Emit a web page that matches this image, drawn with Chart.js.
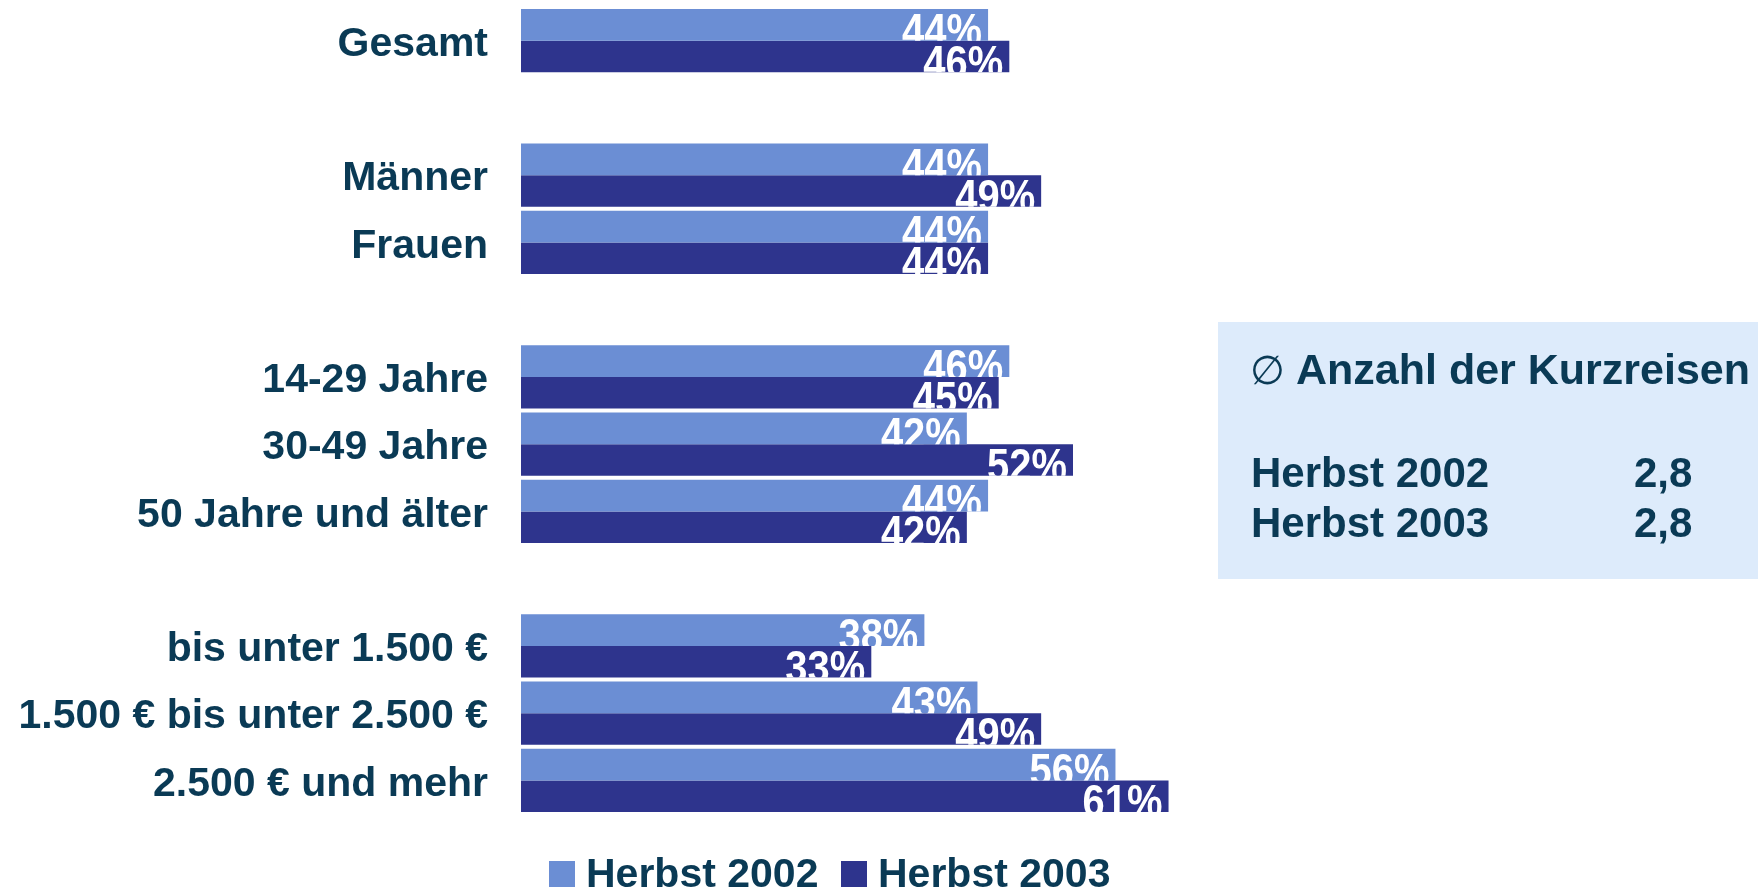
<!DOCTYPE html>
<html>
<head>
<meta charset="utf-8">
<script src="https://cdn.jsdelivr.net/npm/chart.js@4"></script>
<style>
  html, body { margin: 0; padding: 0; background: #ffffff; }
  #wrap { width: 1758px; height: 889px; }
</style>
</head>
<body>
<div id="wrap"><canvas id="c" width="1758" height="889"></canvas></div>
<script>
// ---- data ----
const categories = ['Gesamt', '', 'Männer', 'Frauen', '', '14-29 Jahre', '30-49 Jahre', '50 Jahre und älter', '', 'bis unter 1.500 €', '1.500 € bis unter 2.500 €', '2.500 € und mehr'];
const seriesNames = ['Herbst 2002', 'Herbst 2003'];
const herbst2002 = [44, null, 44, 44, null, 46, 42, 44, null, 38, 43, 56];
const herbst2003 = [46, null, 49, 44, null, 45, 52, 42, null, 33, 49, 61];
const boxSymbol = '∅';
const boxTitle = 'Anzahl der Kurzreisen';
const boxRows = ['Herbst 2002', 'Herbst 2003'];
const boxValues = ['2,8', '2,8'];

// ---- styles ----
const colors = ['#6B8ED4', '#2E348D'];
const textColor = '#0A3A55';
const boxBg = '#DDEBFB';
const FONT = "'Liberation Sans', Arial, sans-serif";

const valueLabels = {
  id: 'valueLabels',
  afterDatasetsDraw(chart) {
    const ctx = chart.ctx;
    chart.data.datasets.forEach((ds, di) => {
      const meta = chart.getDatasetMeta(di);
      meta.data.forEach((el, i) => {
        const v = ds.data[i];
        if (v === null || v === undefined) return;
        const p = el.getProps(['x', 'y', 'base', 'height'], true);
        const top = p.y - p.height / 2;
        const left = Math.min(p.x, p.base);
        const w = Math.abs(p.x - p.base);
        ctx.save();
        ctx.beginPath();
        ctx.rect(left, top, w, p.height);
        ctx.clip();
        ctx.font = 'bold 47px ' + FONT;
        ctx.fillStyle = '#ffffff';
        ctx.textAlign = 'right';
        ctx.textBaseline = 'alphabetic';
        ctx.translate(p.x - 6, top + 37);
        ctx.scale(0.85, 1);
        ctx.fillText(v + '%', 0, 0);
        ctx.restore();
      });
    });
  }
};

const extras = {
  id: 'extras',
  afterDraw(chart) {
    const ctx = chart.ctx;
    ctx.save();
    // info box
    ctx.fillStyle = boxBg;
    ctx.fillRect(1218, 322, 540, 257);
    ctx.fillStyle = textColor;
    ctx.textAlign = 'left';
    ctx.textBaseline = 'alphabetic';
    ctx.font = '40px ' + "'DejaVu Sans', " + FONT;
    ctx.fillText(boxSymbol, 1250, 384);
    ctx.font = 'bold 43px ' + FONT;
    ctx.fillText(boxTitle, 1296, 384);
    ctx.font = 'bold 42px ' + FONT;
    boxRows.forEach((r, i) => {
      const y = 487 + i * 50;
      ctx.fillText(r, 1251, y);
      ctx.fillText(boxValues[i], 1634, y);
    });
    // legend
    const legendX = [549, 841];
    ctx.font = 'bold 41px ' + FONT;
    seriesNames.forEach((n, i) => {
      ctx.fillStyle = colors[i];
      ctx.fillRect(legendX[i], 861, 26, 26);
      ctx.fillStyle = textColor;
      ctx.fillText(n, legendX[i] + 37, 887);
    });
    ctx.restore();
  }
};

new Chart(document.getElementById('c'), {
  type: 'bar',
  data: {
    labels: categories,
    datasets: [
      { label: seriesNames[0], data: herbst2002, backgroundColor: colors[0], borderWidth: 0, barPercentage: 1, categoryPercentage: 0.937 },
      { label: seriesNames[1], data: herbst2003, backgroundColor: colors[1], borderWidth: 0, barPercentage: 1, categoryPercentage: 0.937 }
    ]
  },
  options: {
    indexAxis: 'y',
    responsive: false,
    animation: false,
    devicePixelRatio: 1,
    layout: { padding: { left: 0, right: 547, top: 7, bottom: 75 } },
    plugins: {
      legend: { display: false },
      tooltip: { enabled: false },
      title: { display: false }
    },
    scales: {
      x: { display: false, min: 0, max: 65 },
      y: {
        grid: { display: false, drawTicks: false },
        border: { display: false },
        afterFit(scale) {
          scale.width = 521;
          scale.paddingTop = 0;
          scale.paddingBottom = 0;
        },
        ticks: {
          autoSkip: false,
          padding: 33,
          labelOffset: 4,
          color: textColor,
          font: { family: FONT, size: 41, weight: 'bold' }
        }
      }
    }
  },
  plugins: [valueLabels, extras]
});
</script>
</body>
</html>
